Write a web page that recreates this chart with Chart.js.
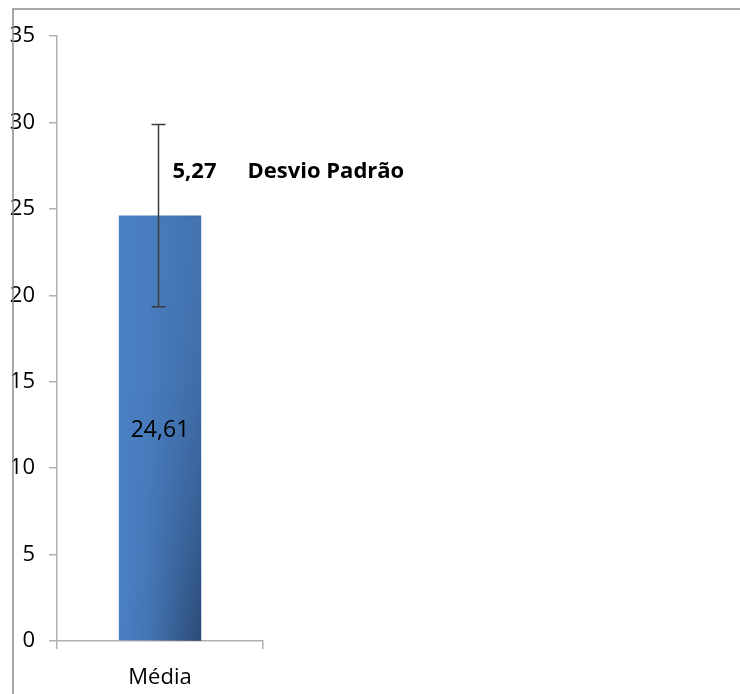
<!DOCTYPE html>
<html>
<head>
<meta charset="utf-8">
<script src="https://cdn.jsdelivr.net/npm/chart.js@4/dist/chart.umd.min.js"></script>
<style>
  html, body { margin: 0; padding: 0; background: #fff; }
  #wrap { width: 740px; height: 694px; position: relative; }
</style>
</head>
<body>
<div id="wrap"><canvas id="chart" width="740" height="694"></canvas></div>
<script>
// Chart data
const categories = ['Média'];
const means = [24.61];
const stdDevs = [5.27];
const sdCaption = 'Desvio Padrão';
const yMin = 0;
const yMax = 35;
const yStep = 5;

const FONT = '"Open Sans", sans-serif';
const fmt = v => v.toFixed(2).replace('.', ',');

// Shading, error bars and labels drawn on top of the bars
const errorBarPlugin = {
  id: 'errorBars',
  afterDatasetsDraw(chart) {
    const ctx = chart.ctx;
    const yScale = chart.scales.y;
    const meta = chart.getDatasetMeta(0);

    meta.data.forEach((bar, i) => {
      const { x, y, base, width } = bar.getProps(['x', 'y', 'base', 'width'], true);
      const left = x - width / 2;

      // darken right side, more towards the bottom
      ctx.save();
      for (let row = Math.floor(y); row < base; row++) {
        const t = (row - y) / (base - y);
        const a = 0.15 + 0.43 * t * t;
        const g = ctx.createLinearGradient(left, 0, left + width, 0);
        g.addColorStop(0, 'rgba(20,35,60,0)');
        g.addColorStop(0.35, `rgba(20,35,60,${(a * 0.2).toFixed(3)})`);
        g.addColorStop(1, `rgba(20,35,60,${a.toFixed(3)})`);
        ctx.fillStyle = g;
        ctx.fillRect(left, Math.max(row, y), width, 1);
      }
      ctx.restore();

      // error bar
      const hi = yScale.getPixelForValue(means[i] + stdDevs[i]);
      const lo = yScale.getPixelForValue(means[i] - stdDevs[i]);
      const ex = Math.round(x) - 1.5;
      ctx.save();
      ctx.strokeStyle = '#3c3c3c';
      ctx.lineWidth = 1.5;
      ctx.beginPath();
      ctx.moveTo(ex, hi);
      ctx.lineTo(ex, lo);
      ctx.moveTo(ex - 7, hi);
      ctx.lineTo(ex + 7, hi);
      ctx.moveTo(ex - 7, lo);
      ctx.lineTo(ex + 7, lo);
      ctx.stroke();

      // value label in the middle of the bar
      ctx.fillStyle = '#000';
      ctx.font = `23px ${FONT}`;
      ctx.textAlign = 'center';
      ctx.textBaseline = 'middle';
      ctx.fillText(fmt(means[i]), x, (y + base) / 2 + 3);

      // standard deviation label
      const sy = yScale.getPixelForValue(means[i] + stdDevs[i] * 0.48);
      ctx.font = `bold 22px ${FONT}`;
      ctx.textAlign = 'left';
      ctx.fillText(fmt(stdDevs[i]), ex + 14, sy);
      ctx.fillText(sdCaption, ex + 89, sy);
      ctx.restore();
    });
  },
  afterDraw(chart) {
    // outer frame (top and left edges only)
    const ctx = chart.ctx;
    ctx.save();
    ctx.strokeStyle = '#8c8c8c';
    ctx.lineWidth = 1.5;
    ctx.beginPath();
    ctx.moveTo(13, chart.height);
    ctx.lineTo(13, 9);
    ctx.lineTo(chart.width, 9);
    ctx.stroke();
    ctx.restore();
  }
};

new Chart(document.getElementById('chart'), {
  type: 'bar',
  data: {
    labels: categories,
    datasets: [{
      data: means,
      backgroundColor: '#4a80c4',
      borderWidth: 0,
      barPercentage: 0.4,
      categoryPercentage: 1
    }]
  },
  options: {
    responsive: false,
    animation: false,
    layout: { padding: { left: 0, right: 477, top: 36, bottom: 0 } },
    plugins: {
      legend: { display: false },
      tooltip: { enabled: false }
    },
    scales: {
      x: {
        afterFit(scale) { scale.height = 53; },
        grid: {
          offset: true,
          drawOnChartArea: false,
          drawTicks: true,
          tickLength: 8,
          color: '#b0b0b0',
          lineWidth: 1.5
        },
        border: { color: '#b0b0b0', width: 1.5 },
        ticks: {
          color: '#000',
          padding: 16,
          font: { family: FONT, size: 22 }
        }
      },
      y: {
        min: yMin,
        max: yMax,
        afterFit(scale) { scale.width = 57; },
        grid: {
          drawOnChartArea: false,
          drawTicks: true,
          tickLength: 8,
          color: '#b0b0b0',
          lineWidth: 1.5
        },
        border: { color: '#b0b0b0', width: 1.5 },
        ticks: {
          stepSize: yStep,
          color: '#000',
          padding: 14,
          font: { family: FONT, size: 22 }
        }
      }
    }
  },
  plugins: [errorBarPlugin]
});
</script>
</body>
</html>
